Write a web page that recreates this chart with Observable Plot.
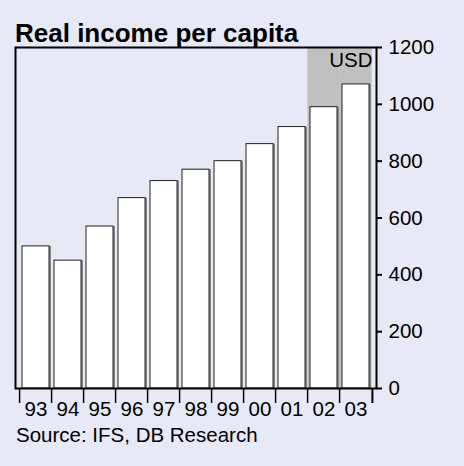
<!DOCTYPE html>
<html><head><meta charset="utf-8">
<script src="https://cdn.jsdelivr.net/npm/d3@7"></script>
<script src="https://cdn.jsdelivr.net/npm/@observablehq/plot@0.6"></script>
<style>
html,body{margin:0;padding:0;background:#e7e9f6;}
#wrap{position:relative;width:464px;height:466px;font-family:"Liberation Sans",Arial,sans-serif;color:#000;}
#title{position:absolute;left:15px;top:20px;font-size:26px;font-weight:bold;line-height:26px;white-space:nowrap;}
#caption{position:absolute;left:16px;top:425px;font-size:20.5px;line-height:20.5px;white-space:nowrap;}
#chart{position:absolute;left:0;top:0;}
</style></head><body>
<div id="wrap"><div id="chart"></div><div id="title">Real income per capita</div><div id="caption">Source: IFS, DB Research</div></div>
<script>
const years = ["93","94","95","96","97","98","99","00","01","02","03"];
const income = [500,450,570,670,730,770,800,860,920,990,1070];
const forecastYears = ["02","03"];
const yTicks = [0,200,400,600,800,1000,1200];
const unitLabel = "USD";

const data = years.map((year, i) => ({year, value: income[i]}));
const W = 464, H = 466, mL = 15, mR = 88, mT = 47, mB = 78;
const padIn = 0.16, padOut = 0.08;
const step = (W - mL - mR) / (years.length - padIn + 2 * padOut);
const font = '"Liberation Sans", Arial, sans-serif';

const chart = Plot.plot({
  width: W, height: H,
  marginLeft: mL, marginRight: mR, marginTop: mT, marginBottom: mB,
  style: {background: "transparent", fontFamily: font, fontSize: "20.5px", color: "#000"},
  x: {type: "band", domain: years, paddingInner: padIn, paddingOuter: padOut, axis: null, label: null},
  y: {domain: [0, 1200], axis: null, label: null},
  marks: [
    Plot.barY(forecastYears, {x: d => d, y1: 0, y2: 1200, fill: "#c0c0c0",
      insetLeft: -padIn * step / 2, insetRight: -padIn * step / 2}),
    Plot.barY(data, {x: "year", y: "value", fill: "#8a8a8a", dx: 2}),
    Plot.barY(data, {x: "year", y: "value", fill: "white", stroke: "#222", strokeWidth: 1}),
    Plot.text([unitLabel], {frameAnchor: "top-right", dx: -4, dy: 5, lineAnchor: "top", fontSize: 20.5, fill: "#000"}),
    Plot.frame({stroke: "#000", strokeWidth: 2}),
    Plot.axisX({tickSize: 0, tickPadding: 13, fontSize: 20.5, fill: "#000", label: null}),
    Plot.axisX({tickSize: 15, text: null, dx: -step / 2, strokeWidth: 1.5, stroke: "#000", label: null}),
    Plot.axisX(["03"], {tickSize: 15, text: null, dx: step / 2, strokeWidth: 2, stroke: "#000", label: null}),
    Plot.axisY(yTicks, {anchor: "right", tickSize: 5, tickPadding: 7, fontSize: 20.5, strokeWidth: 2, stroke: "#000", fill: "#000", label: null, tickFormat: d => String(d)})
  ]
});
document.getElementById("chart").appendChild(chart);
</script>
</body></html>
